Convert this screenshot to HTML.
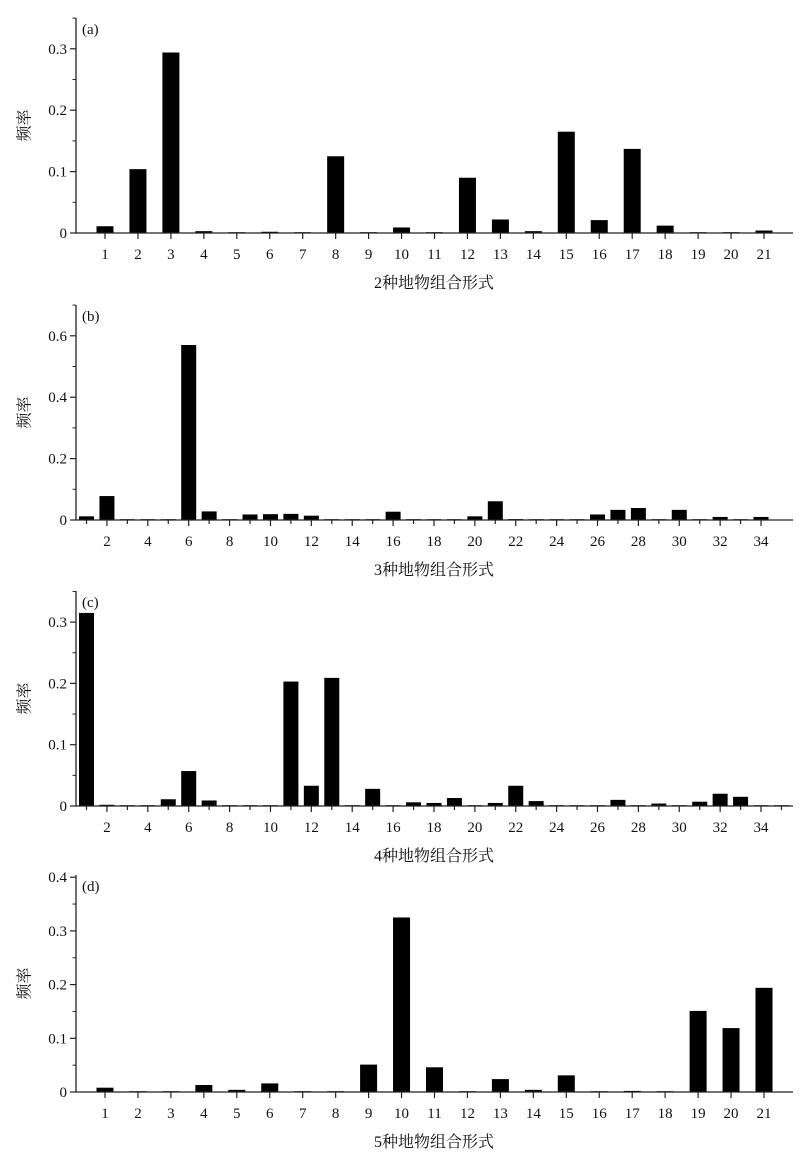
<!DOCTYPE html>
<html><head><meta charset="utf-8"><style>
body{margin:0;background:#fff}
svg{display:block}
text{font-family:"Liberation Serif","Noto Serif CJK SC",serif;fill:#111}
</style></head><body>
<svg id="s" width="800" height="1166" viewBox="0 0 800 1166"></svg>
<script>
const catsA=[1,2,3,4,5,6,7,8,9,10,11,12,13,14,15,16,17,18,19,20,21];
const valsA=[0.011,0.104,0.294,0.003,0.001,0.002,0.001,0.125,0,0.009,0,0.09,0.022,0.003,0.165,0.021,0.137,0.012,0.001,0,0.004];
const catsB=[1,2,3,4,5,6,7,8,9,10,11,12,13,14,15,16,17,18,19,20,21,22,23,24,25,26,27,28,29,30,31,32,33,34];
const valsB=[0.012,0.078,0.001,0.002,0,0.57,0.028,0.002,0.018,0.019,0.02,0.014,0,0.001,0.002,0.027,0,0.001,0.001,0.012,0.061,0.003,0.001,0,0.002,0.018,0.033,0.039,0.001,0.033,0.001,0.01,0.002,0.01];
const catsC=[1,2,3,4,5,6,7,8,9,10,11,12,13,14,15,16,17,18,19,20,21,22,23,24,25,26,27,28,29,30,31,32,33,34,35];
const valsC=[0.315,0.002,0,0.001,0.011,0.057,0.009,0,0,0.001,0.203,0.033,0.209,0.001,0.028,0,0.006,0.005,0.013,0,0.005,0.033,0.008,0,0,0,0.01,0,0.004,0,0.007,0.02,0.015,0.001,0.001];
const catsD=[1,2,3,4,5,6,7,8,9,10,11,12,13,14,15,16,17,18,19,20,21];
const valsD=[0.008,0.001,0,0.013,0.004,0.016,0.001,0.001,0.051,0.325,0.046,0,0.024,0.004,0.031,0,0.002,0,0.151,0.119,0.194];
const yTicksA=["0","0.1","0.2","0.3"];
const yTicksB=["0","0.2","0.4","0.6"];
const yTicksC=["0","0.1","0.2","0.3"];
const yTicksD=["0","0.1","0.2","0.3","0.4"];

const svg=document.getElementById('s');
const NS='http://www.w3.org/2000/svg';
function el(tag,at,parent){const e=document.createElementNS(NS,tag);for(const k in at)e.setAttribute(k,at[k]);(parent||svg).appendChild(e);return e;}

function panel(o){
  const g=el('g',{});
  
  
  const x0=76,x1=793;
  const xs=i=>o.xa+(i-o.x1c)*o.xd;
  const ys=v=>o.base-v*o.ppu;
  // bars
  o.cats.forEach((c,k)=>{
    const v=o.vals[k];const h=Math.max(v*o.ppu,0.8);
    const r=el('rect',{x:xs(c)-o.bw/2,y:o.base-h,width:o.bw,height:h,fill:'#000'},g);
    
    
  });
  // axes
  const ax=el('path',{d:`M${x0} ${o.top}V${o.base}H${x1}`,stroke:'#222','stroke-width':1.3,fill:'none'},g);
  
  
  // y ticks
  o.yt.forEach((t,k)=>{
    const v=parseFloat(t);const y=ys(v);
    el('line',{x1:x0-6,x2:x0,y1:y,y2:y,stroke:'#222','stroke-width':1.2},g);
    const tx=el('text',{x:x0-9,y:y+5,'text-anchor':'end','font-size':15},g);tx.textContent=t;
    
    
    const vm=v+o.ystep/2;const ym=ys(vm);
    if(ym>o.top)el('line',{x1:x0-3.5,x2:x0,y1:ym,y2:ym,stroke:'#222','stroke-width':1},g);
  });
  // x ticks
  o.cats.forEach(c=>{
    const x=xs(c);const major=(o.every===1)||(c%2===0);
    if(x>x1)return;
    el('line',{x1:x,x2:x,y1:o.base,y2:o.base+(major?6:4),stroke:'#222','stroke-width':1.2},g);
    if(major){const tx=el('text',{x:x,y:o.base+26,'text-anchor':'middle','font-size':15},g);tx.textContent=c;
      
      }
  });
  const lb=el('text',{x:82,y:o.top+16,'font-size':15},g);lb.textContent='('+o.id+')';
  
  
  const xl=el('text',{x:434,y:o.base+55,'text-anchor':'middle','font-size':16},g);xl.textContent=o.xlab;
  
  
  const yc=(o.top+o.base)/2;
  const yl=el('text',{x:26,y:yc,'text-anchor':'middle','font-size':16,transform:`rotate(-90 26 ${yc})`,'dominant-baseline':'middle'},g);yl.textContent='频率';
  
  
}
panel({id:'a',cats:catsA,vals:valsA,yt:yTicksA,ystep:0.1,top:18,base:233,ppu:614,xa:105,x1c:1,xd:32.95,bw:17,every:1,xlab:'2种地物组合形式'});
panel({id:'b',cats:catsB,vals:valsB,yt:yTicksB,ystep:0.2,top:305,base:520,ppu:307,xa:86.5,x1c:1,xd:20.44,bw:15,every:2,xlab:'3种地物组合形式'});
panel({id:'c',cats:catsC,vals:valsC,yt:yTicksC,ystep:0.1,top:591,base:806,ppu:613,xa:86.5,x1c:1,xd:20.44,bw:15,every:2,xlab:'4种地物组合形式'});
panel({id:'d',cats:catsD,vals:valsD,yt:yTicksD,ystep:0.1,top:875,base:1092,ppu:537,xa:105,x1c:1,xd:32.95,bw:17,every:1,xlab:'5种地物组合形式'});
</script>
</body></html>
